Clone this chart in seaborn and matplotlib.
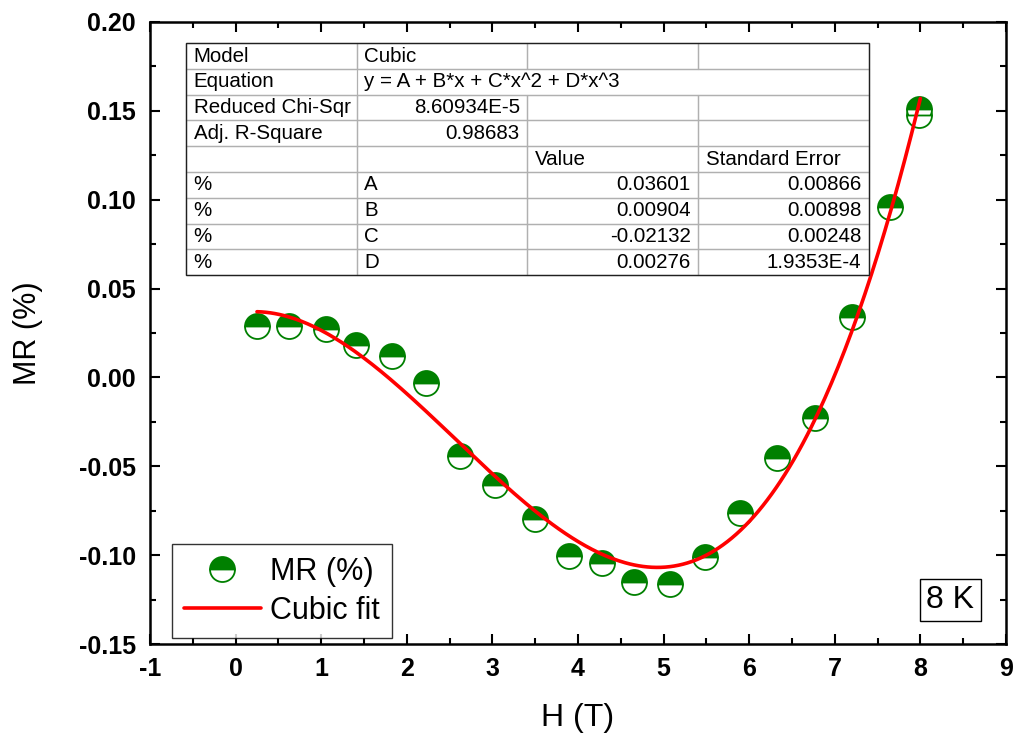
import numpy as np
import pandas as pd
import matplotlib
matplotlib.use("Agg")
import matplotlib.pyplot as plt
from matplotlib.patches import Rectangle
from matplotlib.lines import Line2D
from matplotlib.ticker import MultipleLocator, FormatStrFormatter
import seaborn as sns

# Magnetoresistance at 8 K versus applied field
field_T = [0.25, 0.63, 1.06, 1.41, 1.83, 2.22, 2.62, 3.03, 3.50, 3.89, 4.28,
           4.66, 5.07, 5.49, 5.89, 6.33, 6.77, 7.20, 7.64, 7.99, 7.99]
mr_pct = [0.0291, 0.0291, 0.0272, 0.0182, 0.0122, -0.0033, -0.0442, -0.0606,
          -0.0799, -0.1003, -0.1046, -0.1150, -0.1163, -0.1012, -0.0765,
          -0.0455, -0.0227, 0.0338, 0.0960, 0.1510, 0.1478]

# Cubic fit parameters: y = A + B*x + C*x^2 + D*x^3
fit_names = ["A", "B", "C", "D"]
fit_values = [0.03601, 0.00904, -0.02132, 0.00276]
fit_errors = ["0.00866", "0.00898", "0.00248", "1.9353E-4"]
fit_value_text = ["0.03601", "0.00904", "-0.02132", "0.00276"]
red_chi_sqr = "8.60934E-5"
adj_r_square = "0.98683"
fit_range = [0.25, 8.0]

sns.set_theme(style="ticks")
plt.rcParams["font.family"] = ["Liberation Sans", "DejaVu Sans"]
plt.rcParams["text.color"] = "black"
plt.rcParams["axes.labelcolor"] = "black"
plt.rcParams["xtick.color"] = "black"
plt.rcParams["ytick.color"] = "black"

fig = plt.figure(figsize=(10.16, 7.4), dpi=100)
ax = fig.add_axes([0.1476, 0.1297, 0.8425, 0.8406])

data = pd.DataFrame({"H": field_T, "MR": mr_pct})
xf = np.linspace(fit_range[0], fit_range[1], 300)
A, B, C, D = fit_values
fit = pd.DataFrame({"H": xf, "MR": A + B * xf + C * xf**2 + D * xf**3})

green = "#008000"
red = "#ff0000"
msize = 18

sns.lineplot(data=data, x="H", y="MR", estimator=None, sort=False, ax=ax,
             linestyle="", marker="o", markersize=msize, fillstyle="top",
             color=green, markerfacecolor=green, markerfacecoloralt="white",
             markeredgecolor=green, markeredgewidth=1.3, zorder=3)
sns.lineplot(data=fit, x="H", y="MR", estimator=None, sort=False, ax=ax,
             color=red, linewidth=2.6, zorder=4)

ax.set_xlim(-1, 9)
ax.set_ylim(-0.15, 0.20)
ax.xaxis.set_major_locator(MultipleLocator(1))
ax.xaxis.set_minor_locator(MultipleLocator(0.5))
ax.yaxis.set_major_locator(MultipleLocator(0.05))
ax.yaxis.set_minor_locator(MultipleLocator(0.025))
ax.yaxis.set_major_formatter(FormatStrFormatter("%.2f"))
ax.xaxis.set_major_formatter(FormatStrFormatter("%d"))

for s in ax.spines.values():
    s.set_linewidth(1.8)
    s.set_color("black")
ax.tick_params(which="both", direction="in", top=True, right=True,
               color="black", width=1.5)
ax.tick_params(which="major", length=7.5, labelsize=18, labelcolor="black")
ax.tick_params(which="minor", length=4)
ax.tick_params(axis="y", which="major", pad=10)
ax.tick_params(axis="x", which="major", pad=9)
for lab in ax.get_xticklabels() + ax.get_yticklabels():
    lab.set_fontweight("bold")

ax.set_xlabel("H (T)", fontsize=23, labelpad=16, color="black")
ax.set_ylabel("MR (%)", fontsize=22, labelpad=26, color="black")

# Fit report table
rows = [
    ["Model", "Cubic", "", ""],
    ["Equation", "y = A + B*x + C*x^2 + D*x^3", "", ""],
    ["Reduced Chi-Sqr", red_chi_sqr, "", ""],
    ["Adj. R-Square", adj_r_square, "", ""],
    ["", "", "Value", "Standard Error"],
]
for n, v, e in zip(fit_names, fit_value_text, fit_errors):
    rows.append(["%", n, v, e])

tx0, ty0, tw, th = 0.042, 0.593, 0.798, 0.373
ax.add_patch(Rectangle((tx0, ty0), tw, th, transform=ax.transAxes,
                       facecolor="white", edgecolor="none", zorder=5))
tab = ax.table(cellText=rows, bbox=[tx0, ty0, tw, th], zorder=6)
tab.auto_set_font_size(False)
tab.set_fontsize(14.8)
right_cells = {(2, 1), (3, 1)} | {(r, c) for r in range(5, 9) for c in (2, 3)}
for (r, c), cell in tab.get_celld().items():
    cell.PAD = 0.045
    cell.set_facecolor("none")
    cell.set_edgecolor("#b0b0b0")
    cell.set_linewidth(0.9)
    cell.get_text().set_color("black")
    cell.get_text().set_ha("right" if (r, c) in right_cells else "left")
    if r == 1:
        cell.visible_edges = {0: "BTL", 1: "BTL", 2: "BT", 3: "BTR"}[c]
ax.add_patch(Rectangle((tx0, ty0), tw, th, transform=ax.transAxes,
                       facecolor="none", edgecolor="#202020", linewidth=1.0,
                       zorder=7))

# Legend
handles = [
    Line2D([], [], linestyle="", marker="o", markersize=msize, fillstyle="top",
           color=green, markerfacecolor=green, markerfacecoloralt="white",
           markeredgecolor=green, markeredgewidth=1.3),
    Line2D([], [], color=red, linewidth=2.6),
]
leg = ax.legend(handles, ["MR (%)", "Cubic fit"], loc="lower left",
                bbox_to_anchor=(0.0257, 0.0096), borderaxespad=0,
                fontsize=22, frameon=True, fancybox=False, handlelength=2.5,
                handletextpad=0.3, borderpad=0.4, labelspacing=0.3)
leg.get_frame().set_edgecolor("black")
leg.get_frame().set_linewidth(1.0)

ax.text(0.935, 0.0707, "8 K", transform=ax.transAxes, fontsize=23,
        ha="center", va="center",
        bbox=dict(boxstyle="square,pad=0.2", facecolor="white",
                  edgecolor="black", linewidth=1.0))

fig.savefig("out.png", dpi=100)
